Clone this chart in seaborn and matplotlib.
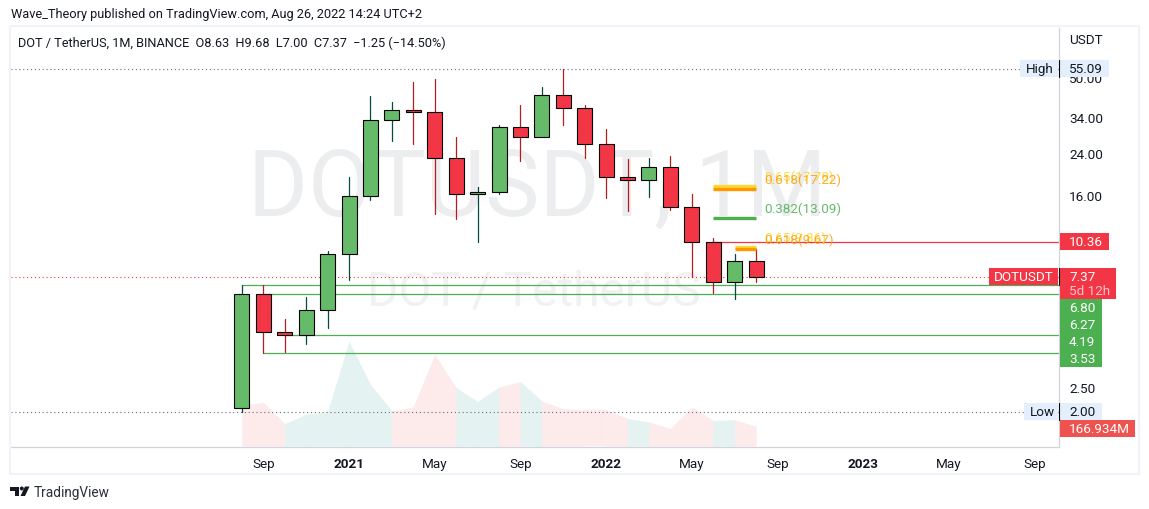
import numpy as np
import pandas as pd
import seaborn as sns
import matplotlib
matplotlib.use('Agg')
import matplotlib.pyplot as plt
from matplotlib.patches import Rectangle, Polygon, Circle
from matplotlib.ticker import NullFormatter, NullLocator

# monthly candles, Aug 2020 to Aug 2022
opens = [2.07, 6.27, 4.32, 4.19, 5.34, 9.18, 16.08, 33.50, 36.90, 36.19, 23.21, 16.39, 16.71,
         31.31, 28.42, 42.65, 37.61, 26.57, 19.31, 18.76, 21.27, 14.45, 10.36, 7.00, 8.63]
highs = [6.80, 6.82, 4.90, 6.06, 9.48, 19.37, 42.36, 39.98, 48.50, 49.93, 28.51, 17.59, 32.01,
         38.83, 46.21, 55.09, 38.83, 30.79, 23.05, 23.27, 23.72, 16.44, 10.74, 9.20, 9.68]
lows = [2.00, 3.53, 3.58, 3.87, 4.52, 7.18, 15.56, 27.51, 26.72, 13.59, 12.94, 10.37, 16.48,
        22.67, 28.42, 32.10, 23.34, 15.86, 13.99, 16.01, 14.12, 7.37, 6.33, 5.98, 7.00]
closes = [6.27, 4.32, 4.19, 5.34, 9.18, 16.08, 33.50, 36.90, 36.19, 23.21, 16.39, 16.71, 31.31,
          28.42, 42.65, 37.61, 26.57, 19.31, 18.76, 21.27, 14.45, 10.36, 7.00, 8.63, 7.37]
volumes = [349, 375, 190, 274, 292, 902, 528, 303, 335, 787, 502, 383, 508,
           554, 387, 320, 311, 311, 236, 205, 150, 335, 219, 225, 166.934]

x_ticks = [1, 5, 9, 13, 17, 21, 25, 29, 33, 37]
x_labels = ['Sep', '2021', 'May', 'Sep', '2022', 'May', 'Sep', '2023', 'May', 'Sep']
y_ticks = [2.5, 16, 24, 34, 50]
y_labels = ['2.50', '16.00', '24.00', '34.00', '50.00']

# level price, candle where the line starts, colour name
levels = [(6.80, 0, 'g'), (6.27, 1, 'g'), (4.19, 2, 'g'), (3.53, 1, 'g'), (10.36, 22, 'r')]
fib_big = [(17.78, '#fdd835'), (17.22, '#ff9800'), (13.09, '#4caf50')]
fib_small = [(9.86, '#fdd835'), (9.67, '#ff9800')]

GREEN = '#66bb6a'
RED = '#f23645'
INK = '#131722'
LINE = '#d1d4dc'
SIZE = 9.7

sns.set_style('white')
plt.rcParams['font.family'] = ['Roboto', 'DejaVu Sans']

W, H = 1149, 510
fig = plt.figure(figsize=(W / 100, H / 100), dpi=100, facecolor='white')
ax = fig.add_axes([11 / W, (H - 448) / H, (1059 - 11) / W, (448 - 29) / H])
ax2 = ax.twinx()
ax.set_zorder(ax2.get_zorder() + 1)
ax.patch.set_visible(False)

# volume area, each stretch takes the colour of the candle it runs to
xs = np.arange(len(opens))
for i in xs[:-1]:
    col = '#e4f3f1' if closes[i + 1] >= opens[i + 1] else '#fdeaeb'
    ax2.fill_between(xs[i:i + 2], volumes[i:i + 2], 0, color=col, lw=0.3, zorder=2)
ax2.set_ylim(-8.65, 3616)
ax2.set_yticks([])
ax2.text(0.2266, 0.6158, 'DOTUSDT, 1M', transform=ax2.transAxes, fontsize=66, color='#ecedef',
         va='center', ha='left', zorder=1)
ax2.text(0.3395, 0.372, 'DOT / TetherUS', transform=ax2.transAxes, fontsize=34.5, color='#f1f1f3',
         va='center', ha='left', zorder=1)
for s in ax2.spines.values():
    s.set_visible(False)

ax.set_yscale('log')

# wicks go through seaborn, one unit per candle
wicks = pd.DataFrame({
    'candle': np.tile(xs, 2),
    'price': highs + lows,
    'dir': ['up' if c >= o else 'down' for o, c in zip(opens, closes)] * 2,
})
sns.lineplot(data=wicks, x='candle', y='price', hue='dir', units='candle', estimator=None,
             palette={'up': '#004d40', 'down': '#b71c1c'}, legend=False, lw=0.9, zorder=2, ax=ax)

body_cols = [GREEN if c >= o else RED for o, c in zip(opens, closes)]
ax.bar(xs, np.abs(np.array(closes) - np.array(opens)), bottom=np.minimum(opens, closes), width=0.7,
       color=body_cols, edgecolor='black', linewidth=0.8, zorder=3)

for price, start, c in levels:
    ax.hlines(price, start, 38.14, color='#4caf50' if c == 'g' else RED, lw=0.9, zorder=1)
for price, col in fib_big:
    ax.hlines(price, 22, 24, color=col, lw=2.4, zorder=4)
for price, col in fib_small:
    ax.hlines(price, 23, 24, color=col, lw=2.4, zorder=4)

dots = (0, (1, 2.5))
ax.axhline(max(highs), color='#6a6d78', lw=0.8, ls=dots, zorder=1)
ax.axhline(min(lows), color='#6a6d78', lw=0.8, ls=dots, zorder=1)
ax.axhline(closes[-1], color=RED, lw=0.8, ls=dots, zorder=1)

ax.set_xlim(-10.78, 38.14)
ax.set_ylim(1.426, 81.7)
ax2.set_xlim(-10.78, 38.14)
ax.set_xticks(x_ticks, x_labels)
ax.yaxis.tick_right()
ax.set_yticks(y_ticks, y_labels)
ax.yaxis.set_minor_locator(NullLocator())
ax.yaxis.set_minor_formatter(NullFormatter())
ax.tick_params(axis='x', length=0, pad=7, labelsize=SIZE, labelcolor=INK)
ax.tick_params(axis='y', length=0, pad=7.2, labelsize=SIZE, labelcolor=INK)
ax.set_xlabel('')
ax.set_ylabel('')
for lab in ax.get_xticklabels():
    if lab.get_text().startswith('20'):
        lab.set_fontweight('bold')
for lab in ax.get_yticklabels():
    lab.set_verticalalignment('center')
for name in ['top', 'left']:
    ax.spines[name].set_visible(False)
for name in ['right', 'bottom']:
    ax.spines[name].set_color(LINE)
    ax.spines[name].set_linewidth(0.9)

# everything around the panes sits on a pixel overlay
ov = fig.add_axes([0, 0, 1, 1], zorder=10)
ov.set_xlim(0, W)
ov.set_ylim(H, 0)
ov.axis('off')
ov.add_patch(Rectangle((10, 27), 1128.5, 447.5, fill=False, ec='#f0f3fa', lw=1.6))

ov.text(11, 14.5, 'Wave_Theory published on TradingView.com, Aug 26, 2022 14:24 UTC+2',
        fontsize=9.2, color=INK, va='center')
ov.text(18, 43, 'DOT / TetherUS, 1M, BINANCE  O8.63  H9.68  L7.00  C7.37  \u22121.25 (\u221214.50%)',
        fontsize=9.2, color=INK, va='center')
ov.text(1069, 40.5, 'USDT', fontsize=SIZE, color=INK, va='center')


def tag(x0, x1, y0, y1, col):
    ov.add_patch(Rectangle((x0, y0), x1 - x0, y1 - y0, fc=col, ec='none'))


tag(1020, 1058, 61, 78, '#e3effd')
tag(1060, 1109, 61, 78, '#e3effd')
tag(1024, 1058, 404, 421, '#e3effd')
tag(1060, 1102, 404, 421, '#e3effd')
tag(1059.5, 1109, 234, 251, RED)
tag(989, 1058, 269, 286, RED)
tag(1059.5, 1116, 269, 300, RED)
tag(1059.5, 1102, 300, 367.5, '#4caf50')
tag(1059.5, 1135, 421, 438, '#ef5350')
for y0 in [61, 269, 404]:
    ov.plot([1058.5, 1058.5], [y0, y0 + 17], color='black', lw=0.8)

ov.text(1026, 69.5, 'High', fontsize=SIZE, color=INK, va='center')
ov.text(1069, 69.5, '55.09', fontsize=SIZE, color=INK, va='center')
ov.text(1029.5, 412.5, 'Low', fontsize=SIZE, color=INK, va='center')
ov.text(1069, 412.5, '2.00', fontsize=SIZE, color=INK, va='center')
ov.text(1069, 242.5, '10.36', fontsize=SIZE, color='white', va='center')
ov.text(994, 277.5, 'DOTUSDT', fontsize=SIZE, color='white', va='center')
ov.text(1069, 277.5, '7.37', fontsize=SIZE, color='white', va='center')
ov.text(1069, 291.5, '5d 12h', fontsize=SIZE, color='#fbc4ca', va='center')
for y, s in zip([308.5, 325.5, 342.5, 359.5], ['6.80', '6.27', '4.19', '3.53']):
    ov.text(1069, y, s, fontsize=SIZE, color='white', va='center')
ov.text(1069, 429.5, '166.934M', fontsize=SIZE, color='white', va='center')

ov.text(764, 177.5, '0.65(17.78)', fontsize=SIZE, color='#fdd835', va='center', alpha=0.9)
ov.text(764, 180, '0.618(17.22)', fontsize=SIZE, color='#ff9800', va='center', alpha=0.8)
ov.text(764, 209, '0.382(13.09)', fontsize=SIZE, color='#4caf50', va='center', alpha=0.85)
ov.text(764, 238, '0.65(9.86)', fontsize=SIZE, color='#fdd835', va='center', alpha=0.9)
ov.text(764, 240, '0.618(9.67)', fontsize=SIZE, color='#ff9800', va='center', alpha=0.8)

# logo
ov.add_patch(Polygon([(10, 487.5), (19, 487.5), (19, 497), (14.5, 497), (14.5, 491.5), (10, 491.5)], fc=INK, ec='none'))
ov.add_patch(Circle((21.8, 489.5), 2, fc=INK, ec='none'))
ov.add_patch(Polygon([(25, 487.5), (29.5, 487.5), (25, 497), (20.5, 497)], fc=INK, ec='none'))
ov.text(34, 493.5, 'TradingView', fontsize=9.8, color='#2a2e39', va='center')

fig.savefig('out.png', dpi=100)
